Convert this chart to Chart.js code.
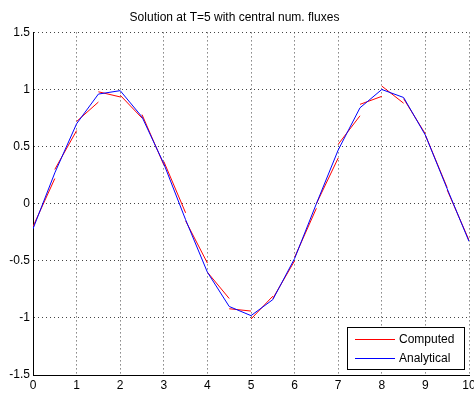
<!DOCTYPE html>
<html>
<head>
<meta charset="utf-8">
<script src="https://cdn.jsdelivr.net/npm/chart.js@4.4.1/dist/chart.umd.min.js"></script>
<style>
  html, body { margin: 0; padding: 0; background: #fff; }
  #wrap { width: 474px; height: 397px; }
</style>
</head>
<body>
<div id="wrap"><canvas id="chart"></canvas></div>
<script>
// element edges (each element is [elemStart[i], elemStart[i] + 0.5])
const elemStart = [0, 0.5, 1, 1.5, 2, 2.5, 3, 3.5, 4, 4.5, 5, 5.5, 6, 6.5, 7, 7.5, 8, 8.5, 9, 9.5];
const elemWidth = 0.5;
// computed solution: value at left and right end of each element
const computedLeft = [-0.20, 0.30, 0.72, 0.98, 0.95, 0.78, 0.37, -0.15, -0.60, -0.92,
                      -1.01, -0.83, -0.47, 0.00, 0.52, 0.87, 1.03, 0.92, 0.60, 0.12];
const computedRight = [0.22, 0.64, 0.89, 0.935, 0.75, 0.34, -0.08, -0.52, -0.83, -0.94,
                       -0.81, -0.50, -0.04, 0.40, 0.77, 0.94, 0.88, 0.61, 0.14, -0.32];
// analytical solution sampled on the element edges
const analyticalX = [0, 0.5, 1, 1.5, 2, 2.5, 3, 3.5, 4, 4.5, 5, 5.5, 6, 6.5, 7, 7.5, 8, 8.5, 9, 9.5, 10];
const analyticalY = [-0.22, 0.27, 0.70, 0.96, 0.99, 0.76, 0.35, -0.14, -0.60, -0.90, -0.98,
                     -0.84, -0.48, 0.00, 0.47, 0.84, 1.00, 0.93, 0.60, 0.13, -0.33];
const xTicks = [0, 1, 2, 3, 4, 5, 6, 7, 8, 9, 10];
const yTicks = [-1.5, -1, -0.5, 0, 0.5, 1, 1.5];

const FONT = 'Liberation Sans, Arial, sans-serif';

// discontinuous segments, one per element, split by null gaps
let computedPts = [];
elemStart.forEach((x0, i) => {
  computedPts.push({ x: x0, y: computedLeft[i] });
  computedPts.push({ x: x0 + elemWidth, y: computedRight[i] });
  computedPts.push({ x: x0 + elemWidth, y: null });
});
let analyticalPts = analyticalX.map((x, i) => ({ x: x, y: analyticalY[i] }));

// matlab style legend inside the axes, lower right
const boxLegend = {
  id: 'boxLegend',
  afterDraw(chart) {
    const ctx = chart.ctx;
    const x = 347, y = 327, w = 117, h = 42;
    ctx.save();
    ctx.fillStyle = '#fff';
    ctx.fillRect(x, y, w, h);
    ctx.strokeStyle = '#000';
    ctx.lineWidth = 1;
    ctx.strokeRect(x + 0.5, y + 0.5, w, h);
    ctx.font = '12px ' + FONT;
    ctx.textBaseline = 'middle';
    chart.data.datasets.forEach((ds, i) => {
      const ly = y + 12 + i * 19;
      ctx.strokeStyle = ds.borderColor;
      ctx.beginPath();
      ctx.moveTo(355, ly + 0.5);
      ctx.lineTo(395, ly + 0.5);
      ctx.stroke();
      ctx.fillStyle = '#000';
      ctx.fillText(ds.label, 399, ly + 1);
    });
    ctx.restore();
  }
};

new Chart(document.getElementById('chart'), {
  type: 'line',
  data: {
    datasets: [
      {
        label: 'Computed',
        data: computedPts,
        borderColor: '#ff0000',
        borderWidth: 1,
        pointRadius: 0,
        tension: 0,
        spanGaps: false,
        order: 1
      },
      {
        label: 'Analytical',
        data: analyticalPts,
        borderColor: '#0000ff',
        borderWidth: 1,
        pointRadius: 0,
        tension: 0,
        order: 0
      }
    ]
  },
  options: {
    responsive: true,
    maintainAspectRatio: false,
    animation: false,
    layout: { padding: { left: 0, right: 5, top: 0, bottom: 0 } },
    plugins: {
      legend: { display: false },
      tooltip: { enabled: false },
      title: {
        display: true,
        text: 'Solution at T=5 with central num. fluxes',
        color: '#000',
        font: { family: FONT, size: 12, weight: 'normal' },
        padding: { top: 10, bottom: 8 }
      }
    },
    scales: {
      x: {
        type: 'linear',
        min: 0,
        max: 10,
        afterBuildTicks: (scale) => { scale.ticks = xTicks.map(v => ({ value: v })); },
        afterFit: (scale) => { scale.height = 22; scale.paddingLeft = 0; scale.paddingRight = 0; },
        ticks: { color: '#000', font: { family: FONT, size: 12 }, padding: 3, maxRotation: 0, autoSkip: false,
                 callback: (v) => String(v) },
        grid: { color: '#444', drawTicks: false },
        border: { display: true, color: '#000', width: 1, dash: [1, 3] }
      },
      y: {
        type: 'linear',
        min: -1.5,
        max: 1.5,
        afterBuildTicks: (scale) => { scale.ticks = yTicks.map(v => ({ value: v })); },
        afterFit: (scale) => { scale.width = 33; scale.paddingTop = 0; scale.paddingBottom = 0; },
        ticks: { color: '#000', font: { family: FONT, size: 12 }, padding: 3, autoSkip: false,
                 callback: (v) => String(v) },
        grid: { color: '#444', drawTicks: false },
        border: { display: true, color: '#000', width: 1, dash: [1, 3] }
      }
    }
  },
  plugins: [boxLegend]
});
</script>
</body>
</html>
